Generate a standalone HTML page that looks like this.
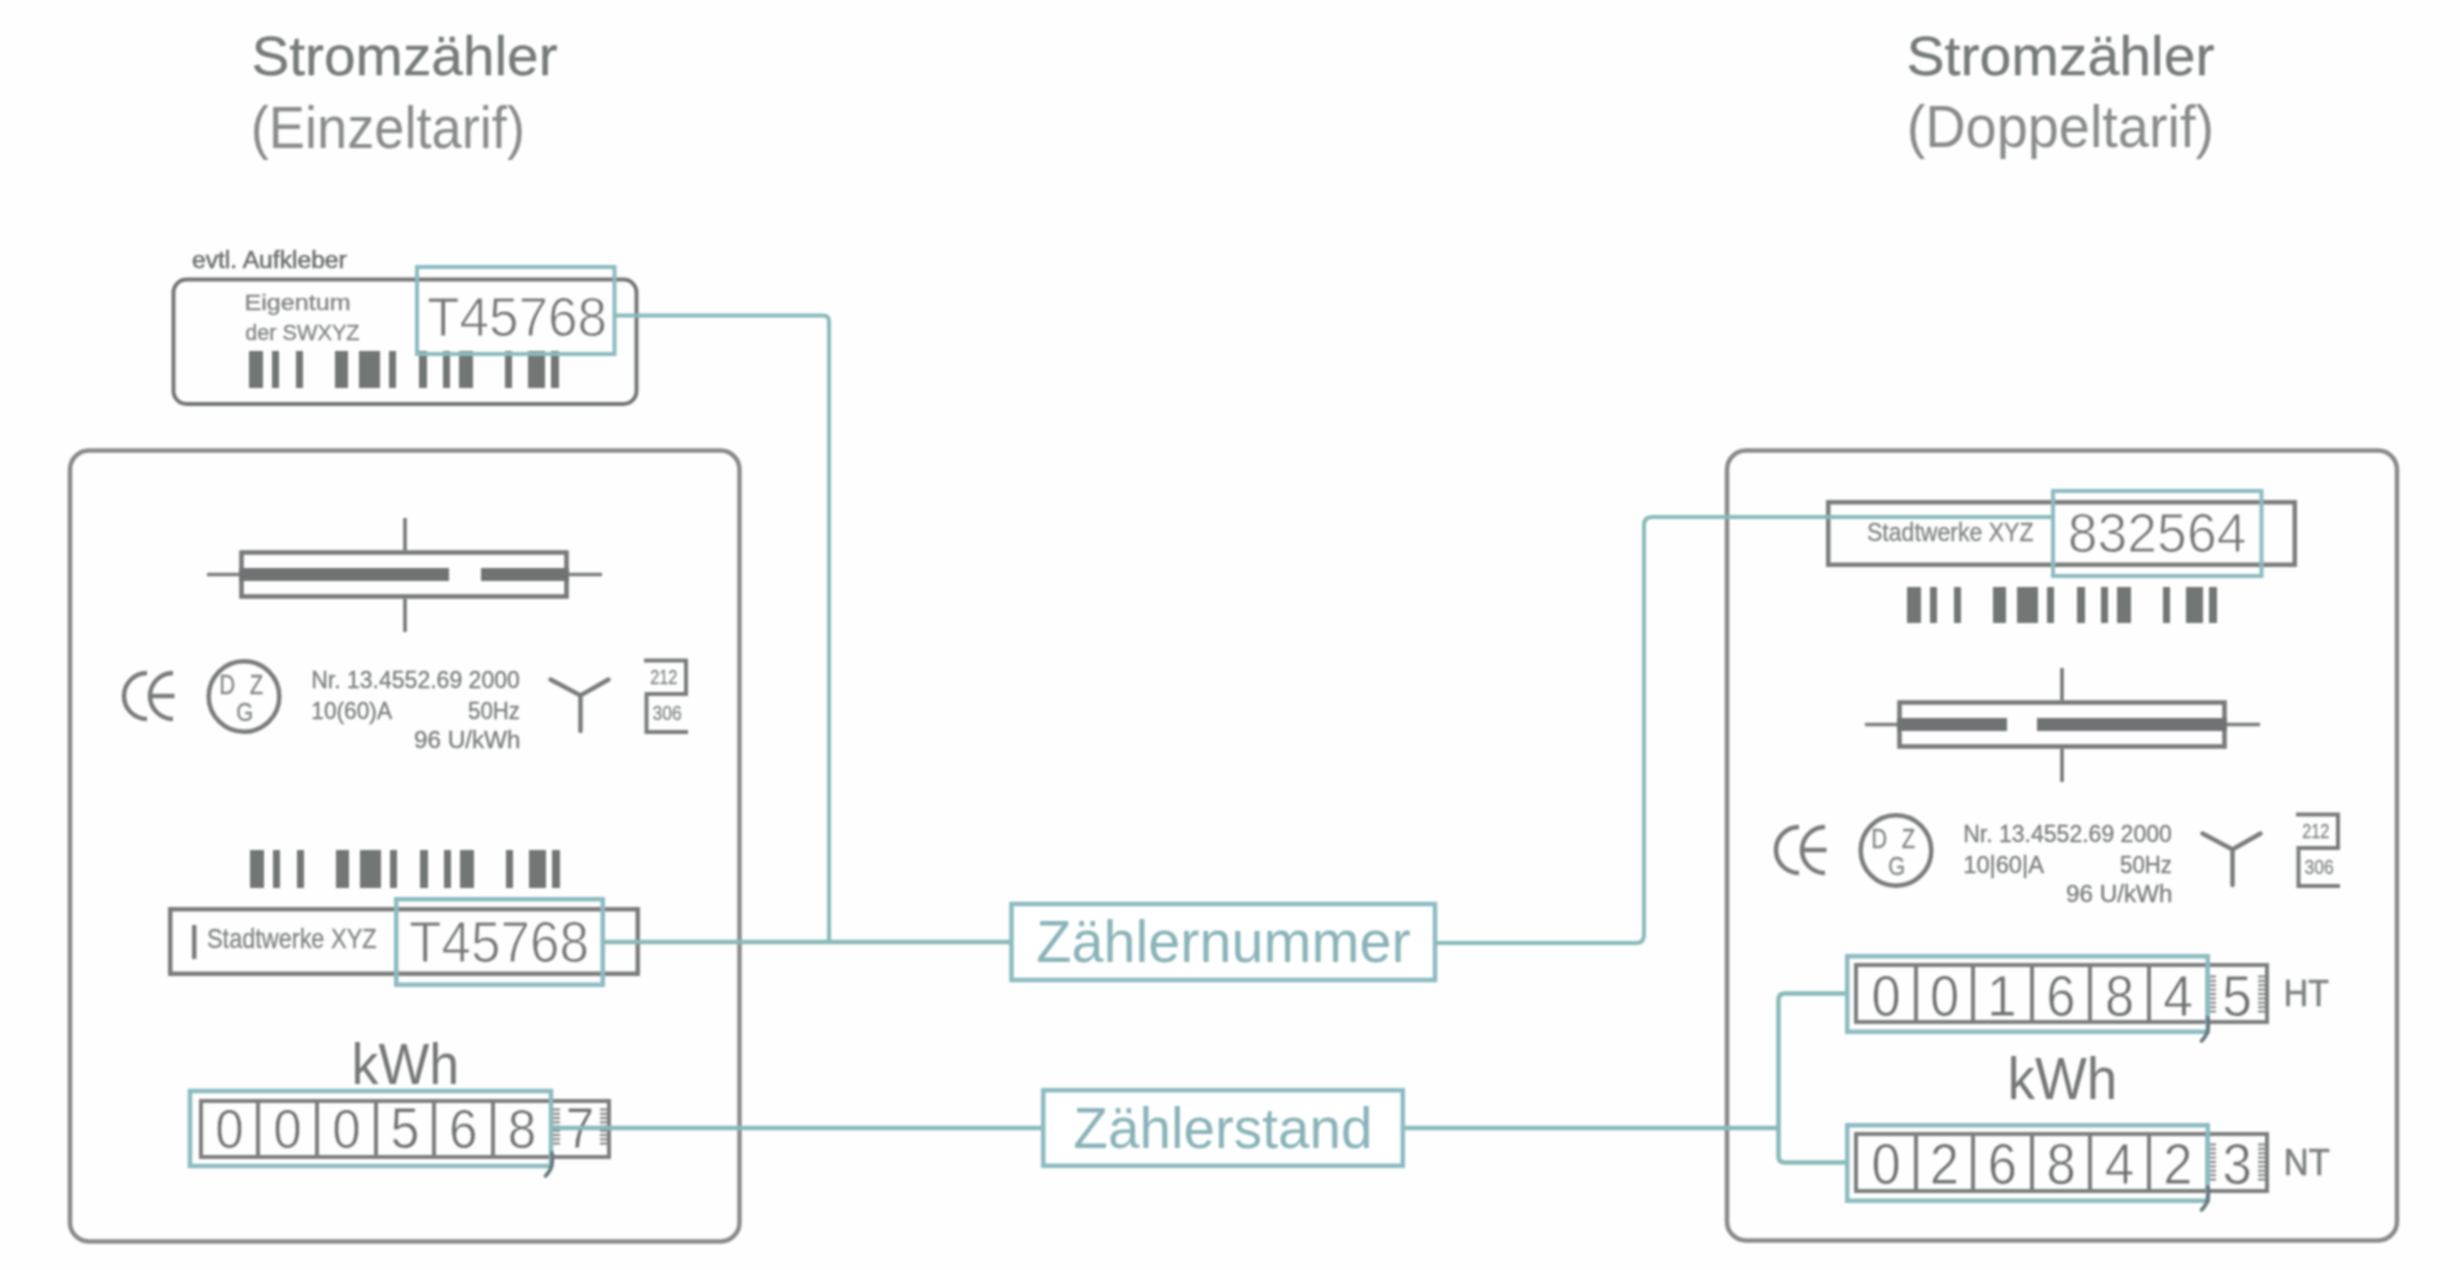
<!DOCTYPE html>
<html><head><meta charset="utf-8"><style>
html,body{margin:0;padding:0;background:#fefefe;}
svg{display:block;will-change:transform;filter:blur(0.9px);}
text{font-family:"Liberation Sans",sans-serif;}
</style></head><body>
<svg width="2460" height="1270" viewBox="0 0 2460 1270">
<rect width="2460" height="1270" fill="#fefefe"/>
<text transform="translate(251.44,74.50) scale(1.0260,1)" font-size="55.36" font-weight="normal" fill="#767a7a" stroke="#767a7a" stroke-width="0.35">Stromzähler</text>
<text transform="translate(250.74,147.50) scale(0.9300,1)" font-size="58.33" font-weight="normal" fill="#8a8c8c" >(Einzeltarif)</text>
<text transform="translate(1906.43,74.50) scale(1.0261,1)" font-size="55.71" font-weight="normal" fill="#767a7a" stroke="#767a7a" stroke-width="0.35">Stromzähler</text>
<text transform="translate(1906.65,147.00) scale(0.9523,1)" font-size="58.70" font-weight="normal" fill="#8a8c8c" >(Doppeltarif)</text>
<text transform="translate(192.01,268.00) scale(1.0508,1)" font-size="23.45" font-weight="normal" fill="#6f7272" stroke="#6f7272" stroke-width="0.6">evtl. Aufkleber</text>
<rect x="173.5" y="279.5" width="463" height="124.5" rx="13" fill="none" stroke="#747676" stroke-width="4"/>
<text transform="translate(244.49,310.00) scale(1.1556,1)" font-size="21.74" font-weight="normal" fill="#848787" stroke="#848787" stroke-width="0.4">Eigentum</text>
<text transform="translate(245.13,340.00) scale(0.9828,1)" font-size="22.07" font-weight="normal" fill="#848787" stroke="#848787" stroke-width="0.4">der SWXYZ</text>
<rect x="249" y="351" width="14" height="37" fill="#727674"/><rect x="272" y="351" width="7" height="37" fill="#727674"/><rect x="296" y="351" width="7" height="37" fill="#727674"/><rect x="335" y="351" width="13" height="37" fill="#727674"/><rect x="359" y="351" width="21" height="37" fill="#727674"/><rect x="389" y="351" width="7" height="37" fill="#727674"/><rect x="419" y="351" width="8" height="37" fill="#727674"/><rect x="443" y="351" width="7" height="37" fill="#727674"/><rect x="459" y="351" width="14" height="37" fill="#727674"/><rect x="505" y="351" width="7" height="37" fill="#727674"/><rect x="528" y="351" width="17" height="37" fill="#727674"/><rect x="551" y="351" width="8" height="37" fill="#727674"/>
<text transform="translate(426.94,336.00) scale(0.9540,1)" font-size="55.71" font-weight="normal" fill="#747775" stroke="#fefefe" stroke-width="1.1">T45768</text>
<rect x="417" y="267" width="197.5" height="87" fill="none" stroke="#8cbbc1" stroke-width="4"/>
<rect x="70" y="450.5" width="669.5" height="791" rx="19" fill="none" stroke="#8a8a8a" stroke-width="4.5"/>
<rect x="1727" y="450.5" width="670" height="790" rx="19" fill="none" stroke="#8a8a8a" stroke-width="4.5"/>
<rect x="241.5" y="552.5" width="325" height="44" fill="none" stroke="#777a7a" stroke-width="4.6"/><rect x="239" y="568" width="210" height="13" fill="#6f7373"/><rect x="481" y="568" width="88" height="13" fill="#6f7373"/><line x1="207" y1="574.5" x2="239" y2="574.5" stroke="#7a7d7d" stroke-width="3.5"/><line x1="569" y1="574.5" x2="602" y2="574.5" stroke="#7a7d7d" stroke-width="3.5"/><line x1="405" y1="518" x2="405" y2="550" stroke="#6f7272" stroke-width="3.5"/><line x1="405" y1="599" x2="405" y2="632" stroke="#6f7272" stroke-width="3.5"/>
<rect x="1899.5" y="702.5" width="325" height="44" fill="none" stroke="#777a7a" stroke-width="4.6"/><rect x="1897" y="718" width="110" height="13" fill="#6f7373"/><rect x="2037" y="718" width="190" height="13" fill="#6f7373"/><line x1="1865" y1="724.5" x2="1897" y2="724.5" stroke="#7a7d7d" stroke-width="3.5"/><line x1="2227" y1="724.5" x2="2260" y2="724.5" stroke="#7a7d7d" stroke-width="3.5"/><line x1="2062" y1="668" x2="2062" y2="700" stroke="#6f7272" stroke-width="3.5"/><line x1="2062" y1="749" x2="2062" y2="782" stroke="#6f7272" stroke-width="3.5"/>
<g transform="translate(0,0)"><path d="M147,673 A23,23 0 0 0 147,719" fill="none" stroke="#7a7c7c" stroke-width="4.5"/><path d="M173,673 A23,23 0 0 0 173,719 M151,696 H174.5" fill="none" stroke="#7a7c7c" stroke-width="4.5"/><circle cx="244" cy="696.5" r="35.3" fill="none" stroke="#7a7c7c" stroke-width="4.5"/><text transform="translate(219.18,694.00) scale(0.8000,1)" font-size="27.54" font-weight="normal" fill="#858888" stroke="#858888" stroke-width="0.4">D</text><text transform="translate(249.78,694.00) scale(0.8000,1)" font-size="27.54" font-weight="normal" fill="#858888" stroke="#858888" stroke-width="0.4">Z</text><text transform="translate(236.25,721.00) scale(0.8500,1)" font-size="25.71" font-weight="normal" fill="#858888" stroke="#858888" stroke-width="0.4">G</text><text transform="translate(311.16,688.00) scale(0.9770,1)" font-size="23.57" font-weight="normal" fill="#7d8080" stroke="#7d8080" stroke-width="0.4">Nr. 13.4552.69 2000</text><text transform="translate(311.30,719.00) scale(0.9681,1)" font-size="23.45" font-weight="normal" fill="#7d8080" stroke="#7d8080" stroke-width="0.4">10(60)A</text><text transform="translate(468.11,719.00) scale(0.9150,1)" font-size="24.29" font-weight="normal" fill="#7d8080" stroke="#7d8080" stroke-width="0.4">50Hz</text><text transform="translate(413.91,748.00) scale(1.0351,1)" font-size="23.45" font-weight="normal" fill="#7d8080" stroke="#7d8080" stroke-width="0.4">96 U/kWh</text><path d="M550.5,679.5 L580.5,695.5 L608.5,679.5 M580.5,695.5 V731" fill="none" stroke="#7a7c7c" stroke-width="4.5" stroke-linecap="round" stroke-linejoin="miter"/><path d="M644,660.5 H686 V694 H646.5 V732 H688" fill="none" stroke="#7a7c7c" stroke-width="4"/><text transform="translate(650.19,684.00) scale(0.8121,1)" font-size="20.00" font-weight="normal" fill="#868989" stroke="#868989" stroke-width="0.4">212</text><text transform="translate(652.38,720.00) scale(0.8501,1)" font-size="20.71" font-weight="normal" fill="#868989" stroke="#868989" stroke-width="0.4">306</text></g>
<g transform="translate(1652,154)"><path d="M147,673 A23,23 0 0 0 147,719" fill="none" stroke="#7a7c7c" stroke-width="4.5"/><path d="M173,673 A23,23 0 0 0 173,719 M151,696 H174.5" fill="none" stroke="#7a7c7c" stroke-width="4.5"/><circle cx="244" cy="696.5" r="35.3" fill="none" stroke="#7a7c7c" stroke-width="4.5"/><text transform="translate(219.18,694.00) scale(0.8000,1)" font-size="27.54" font-weight="normal" fill="#858888" stroke="#858888" stroke-width="0.4">D</text><text transform="translate(249.78,694.00) scale(0.8000,1)" font-size="27.54" font-weight="normal" fill="#858888" stroke="#858888" stroke-width="0.4">Z</text><text transform="translate(236.25,721.00) scale(0.8500,1)" font-size="25.71" font-weight="normal" fill="#858888" stroke="#858888" stroke-width="0.4">G</text><text transform="translate(311.16,688.00) scale(0.9770,1)" font-size="23.57" font-weight="normal" fill="#7d8080" stroke="#7d8080" stroke-width="0.4">Nr. 13.4552.69 2000</text><text transform="translate(311.22,719.00) scale(1.0102,1)" font-size="23.45" font-weight="normal" fill="#7d8080" stroke="#7d8080" stroke-width="0.4">10|60|A</text><text transform="translate(468.11,719.00) scale(0.9150,1)" font-size="24.29" font-weight="normal" fill="#7d8080" stroke="#7d8080" stroke-width="0.4">50Hz</text><text transform="translate(413.91,748.00) scale(1.0351,1)" font-size="23.45" font-weight="normal" fill="#7d8080" stroke="#7d8080" stroke-width="0.4">96 U/kWh</text><path d="M550.5,679.5 L580.5,695.5 L608.5,679.5 M580.5,695.5 V731" fill="none" stroke="#7a7c7c" stroke-width="4.5" stroke-linecap="round" stroke-linejoin="miter"/><path d="M644,660.5 H686 V694 H646.5 V732 H688" fill="none" stroke="#7a7c7c" stroke-width="4"/><text transform="translate(650.19,684.00) scale(0.8121,1)" font-size="20.00" font-weight="normal" fill="#868989" stroke="#868989" stroke-width="0.4">212</text><text transform="translate(652.38,720.00) scale(0.8501,1)" font-size="20.71" font-weight="normal" fill="#868989" stroke="#868989" stroke-width="0.4">306</text></g>
<rect x="250" y="850" width="14" height="38" fill="#727674"/><rect x="273" y="850" width="7" height="38" fill="#727674"/><rect x="297" y="850" width="7" height="38" fill="#727674"/><rect x="336" y="850" width="13" height="38" fill="#727674"/><rect x="360" y="850" width="21" height="38" fill="#727674"/><rect x="390" y="850" width="7" height="38" fill="#727674"/><rect x="420" y="850" width="8" height="38" fill="#727674"/><rect x="444" y="850" width="7" height="38" fill="#727674"/><rect x="460" y="850" width="14" height="38" fill="#727674"/><rect x="506" y="850" width="7" height="38" fill="#727674"/><rect x="529" y="850" width="17" height="38" fill="#727674"/><rect x="552" y="850" width="8" height="38" fill="#727674"/>
<rect x="170.25" y="909.25" width="467.5" height="64.5" fill="none" stroke="#7b7d7d" stroke-width="4.5"/>
<rect x="192" y="925" width="4.5" height="34" fill="#7a7c7c"/>
<text transform="translate(206.94,948.00) scale(0.8657,1)" font-size="27.14" font-weight="normal" fill="#848787" stroke="#848787" stroke-width="0.4">Stadtwerke XYZ</text>
<text transform="translate(408.94,962.00) scale(0.9302,1)" font-size="57.14" font-weight="normal" fill="#747775" stroke="#fefefe" stroke-width="1.1">T45768</text>
<rect x="396.25" y="899.25" width="206.5" height="85.5" fill="none" stroke="#8cbbc1" stroke-width="4.5"/>
<text transform="translate(351.50,1084.00) scale(0.9298,1)" font-size="57.93" font-weight="normal" fill="#767878" >kWh</text>
<rect x="201" y="1101" width="408" height="56" fill="none" stroke="#7c7e7e" stroke-width="4"/><line x1="258" y1="1099" x2="258" y2="1159" stroke="#7c7e7e" stroke-width="4"/><line x1="317" y1="1099" x2="317" y2="1159" stroke="#7c7e7e" stroke-width="4"/><line x1="376" y1="1099" x2="376" y2="1159" stroke="#7c7e7e" stroke-width="4"/><line x1="434" y1="1099" x2="434" y2="1159" stroke="#7c7e7e" stroke-width="4"/><line x1="493" y1="1099" x2="493" y2="1159" stroke="#7c7e7e" stroke-width="4"/><line x1="551" y1="1099" x2="551" y2="1159" stroke="#7c7e7e" stroke-width="3"/><text transform="translate(215.28,1148.00) scale(0.9200,1)" font-size="55.71" font-weight="normal" fill="#6f7171" stroke="#fefefe" stroke-width="0.8">0</text><text transform="translate(273.28,1148.00) scale(0.9200,1)" font-size="55.71" font-weight="normal" fill="#6f7171" stroke="#fefefe" stroke-width="0.8">0</text><text transform="translate(332.28,1148.00) scale(0.9200,1)" font-size="55.71" font-weight="normal" fill="#6f7171" stroke="#fefefe" stroke-width="0.8">0</text><text transform="translate(390.57,1148.00) scale(0.9200,1)" font-size="56.52" font-weight="normal" fill="#6f7171" stroke="#fefefe" stroke-width="0.8">5</text><text transform="translate(449.02,1148.00) scale(0.9200,1)" font-size="55.71" font-weight="normal" fill="#6f7171" stroke="#fefefe" stroke-width="0.8">6</text><text transform="translate(507.78,1148.00) scale(0.9200,1)" font-size="55.71" font-weight="normal" fill="#6f7171" stroke="#fefefe" stroke-width="0.8">8</text><text transform="translate(565.44,1148.00) scale(0.9200,1)" font-size="56.52" font-weight="normal" fill="#6f7171" stroke="#fefefe" stroke-width="0.8">7</text><rect x="553" y="1108.5" width="7" height="2" fill="#7c7e7e"/><rect x="600" y="1108.5" width="7" height="2" fill="#7c7e7e"/><rect x="553" y="1112.8" width="7" height="2" fill="#7c7e7e"/><rect x="600" y="1112.8" width="7" height="2" fill="#7c7e7e"/><rect x="553" y="1117.0" width="7" height="2" fill="#7c7e7e"/><rect x="600" y="1117.0" width="7" height="2" fill="#7c7e7e"/><rect x="553" y="1121.2" width="7" height="2" fill="#7c7e7e"/><rect x="600" y="1121.2" width="7" height="2" fill="#7c7e7e"/><rect x="553" y="1125.5" width="7" height="2" fill="#7c7e7e"/><rect x="600" y="1125.5" width="7" height="2" fill="#7c7e7e"/><rect x="553" y="1129.8" width="7" height="2" fill="#7c7e7e"/><rect x="600" y="1129.8" width="7" height="2" fill="#7c7e7e"/><rect x="553" y="1134.0" width="7" height="2" fill="#7c7e7e"/><rect x="600" y="1134.0" width="7" height="2" fill="#7c7e7e"/><rect x="553" y="1138.2" width="7" height="2" fill="#7c7e7e"/><rect x="600" y="1138.2" width="7" height="2" fill="#7c7e7e"/><rect x="553" y="1142.5" width="7" height="2" fill="#7c7e7e"/><rect x="600" y="1142.5" width="7" height="2" fill="#7c7e7e"/>
<rect x="190" y="1091" width="361" height="75" fill="none" stroke="#8cbbc1" stroke-width="4.5"/>
<rect x="1828.25" y="502.25" width="466.5" height="62.5" fill="none" stroke="#7b7d7d" stroke-width="4.5"/>
<text transform="translate(1866.96,541.00) scale(0.8974,1)" font-size="25.71" font-weight="normal" fill="#848787" stroke="#848787" stroke-width="0.4">Stadtwerke XYZ</text>
<text transform="translate(2067.86,552.00) scale(0.9606,1)" font-size="55.71" font-weight="normal" fill="#747775" stroke="#fefefe" stroke-width="1.1">832564</text>
<rect x="1907" y="587" width="14" height="36" fill="#727674"/><rect x="1930" y="587" width="7" height="36" fill="#727674"/><rect x="1954" y="587" width="7" height="36" fill="#727674"/><rect x="1993" y="587" width="13" height="36" fill="#727674"/><rect x="2017" y="587" width="21" height="36" fill="#727674"/><rect x="2047" y="587" width="7" height="36" fill="#727674"/><rect x="2077" y="587" width="8" height="36" fill="#727674"/><rect x="2101" y="587" width="7" height="36" fill="#727674"/><rect x="2117" y="587" width="14" height="36" fill="#727674"/><rect x="2163" y="587" width="7" height="36" fill="#727674"/><rect x="2186" y="587" width="17" height="36" fill="#727674"/><rect x="2209" y="587" width="8" height="36" fill="#727674"/>
<rect x="1856" y="965" width="411" height="57" fill="none" stroke="#7c7e7e" stroke-width="4"/><line x1="1916" y1="963" x2="1916" y2="1024" stroke="#7c7e7e" stroke-width="4"/><line x1="1973" y1="963" x2="1973" y2="1024" stroke="#7c7e7e" stroke-width="4"/><line x1="2032" y1="963" x2="2032" y2="1024" stroke="#7c7e7e" stroke-width="4"/><line x1="2090" y1="963" x2="2090" y2="1024" stroke="#7c7e7e" stroke-width="4"/><line x1="2149" y1="963" x2="2149" y2="1024" stroke="#7c7e7e" stroke-width="4"/><line x1="2207" y1="963" x2="2207" y2="1024" stroke="#7c7e7e" stroke-width="3"/><text transform="translate(1871.41,1016.00) scale(0.9200,1)" font-size="57.14" font-weight="normal" fill="#6f7171" stroke="#fefefe" stroke-width="0.8">0</text><text transform="translate(1929.91,1016.00) scale(0.9200,1)" font-size="57.14" font-weight="normal" fill="#6f7171" stroke="#fefefe" stroke-width="0.8">0</text><text transform="translate(1986.90,1016.00) scale(0.9200,1)" font-size="57.97" font-weight="normal" fill="#6f7171" stroke="#fefefe" stroke-width="0.8">1</text><text transform="translate(2046.15,1016.00) scale(0.9200,1)" font-size="57.14" font-weight="normal" fill="#6f7171" stroke="#fefefe" stroke-width="0.8">6</text><text transform="translate(2104.91,1016.00) scale(0.9200,1)" font-size="57.14" font-weight="normal" fill="#6f7171" stroke="#fefefe" stroke-width="0.8">8</text><text transform="translate(2163.33,1016.00) scale(0.9200,1)" font-size="57.97" font-weight="normal" fill="#6f7171" stroke="#fefefe" stroke-width="0.8">4</text><text transform="translate(2222.20,1016.00) scale(0.9200,1)" font-size="57.97" font-weight="normal" fill="#6f7171" stroke="#fefefe" stroke-width="0.8">5</text><rect x="2209" y="975.5" width="7" height="2" fill="#7c7e7e"/><rect x="2258" y="975.5" width="7" height="2" fill="#7c7e7e"/><rect x="2209" y="979.9" width="7" height="2" fill="#7c7e7e"/><rect x="2258" y="979.9" width="7" height="2" fill="#7c7e7e"/><rect x="2209" y="984.2" width="7" height="2" fill="#7c7e7e"/><rect x="2258" y="984.2" width="7" height="2" fill="#7c7e7e"/><rect x="2209" y="988.6" width="7" height="2" fill="#7c7e7e"/><rect x="2258" y="988.6" width="7" height="2" fill="#7c7e7e"/><rect x="2209" y="993.0" width="7" height="2" fill="#7c7e7e"/><rect x="2258" y="993.0" width="7" height="2" fill="#7c7e7e"/><rect x="2209" y="997.4" width="7" height="2" fill="#7c7e7e"/><rect x="2258" y="997.4" width="7" height="2" fill="#7c7e7e"/><rect x="2209" y="1001.8" width="7" height="2" fill="#7c7e7e"/><rect x="2258" y="1001.8" width="7" height="2" fill="#7c7e7e"/><rect x="2209" y="1006.1" width="7" height="2" fill="#7c7e7e"/><rect x="2258" y="1006.1" width="7" height="2" fill="#7c7e7e"/><rect x="2209" y="1010.5" width="7" height="2" fill="#7c7e7e"/><rect x="2258" y="1010.5" width="7" height="2" fill="#7c7e7e"/>
<rect x="1856" y="1134" width="411" height="57" fill="none" stroke="#7c7e7e" stroke-width="4"/><line x1="1916" y1="1132" x2="1916" y2="1193" stroke="#7c7e7e" stroke-width="4"/><line x1="1973" y1="1132" x2="1973" y2="1193" stroke="#7c7e7e" stroke-width="4"/><line x1="2032" y1="1132" x2="2032" y2="1193" stroke="#7c7e7e" stroke-width="4"/><line x1="2090" y1="1132" x2="2090" y2="1193" stroke="#7c7e7e" stroke-width="4"/><line x1="2149" y1="1132" x2="2149" y2="1193" stroke="#7c7e7e" stroke-width="4"/><line x1="2207" y1="1132" x2="2207" y2="1193" stroke="#7c7e7e" stroke-width="3"/><text transform="translate(1871.41,1184.00) scale(0.9200,1)" font-size="57.14" font-weight="normal" fill="#6f7171" stroke="#fefefe" stroke-width="0.8">0</text><text transform="translate(1929.78,1184.00) scale(0.9200,1)" font-size="57.14" font-weight="normal" fill="#6f7171" stroke="#fefefe" stroke-width="0.8">2</text><text transform="translate(1987.65,1184.00) scale(0.9200,1)" font-size="57.14" font-weight="normal" fill="#6f7171" stroke="#fefefe" stroke-width="0.8">6</text><text transform="translate(2046.41,1184.00) scale(0.9200,1)" font-size="57.14" font-weight="normal" fill="#6f7171" stroke="#fefefe" stroke-width="0.8">8</text><text transform="translate(2104.83,1184.00) scale(0.9200,1)" font-size="57.97" font-weight="normal" fill="#6f7171" stroke="#fefefe" stroke-width="0.8">4</text><text transform="translate(2163.28,1184.00) scale(0.9200,1)" font-size="57.14" font-weight="normal" fill="#6f7171" stroke="#fefefe" stroke-width="0.8">2</text><text transform="translate(2222.54,1184.00) scale(0.9200,1)" font-size="57.14" font-weight="normal" fill="#6f7171" stroke="#fefefe" stroke-width="0.8">3</text><rect x="2209" y="1143.5" width="7" height="2" fill="#7c7e7e"/><rect x="2258" y="1143.5" width="7" height="2" fill="#7c7e7e"/><rect x="2209" y="1147.9" width="7" height="2" fill="#7c7e7e"/><rect x="2258" y="1147.9" width="7" height="2" fill="#7c7e7e"/><rect x="2209" y="1152.2" width="7" height="2" fill="#7c7e7e"/><rect x="2258" y="1152.2" width="7" height="2" fill="#7c7e7e"/><rect x="2209" y="1156.6" width="7" height="2" fill="#7c7e7e"/><rect x="2258" y="1156.6" width="7" height="2" fill="#7c7e7e"/><rect x="2209" y="1161.0" width="7" height="2" fill="#7c7e7e"/><rect x="2258" y="1161.0" width="7" height="2" fill="#7c7e7e"/><rect x="2209" y="1165.4" width="7" height="2" fill="#7c7e7e"/><rect x="2258" y="1165.4" width="7" height="2" fill="#7c7e7e"/><rect x="2209" y="1169.8" width="7" height="2" fill="#7c7e7e"/><rect x="2258" y="1169.8" width="7" height="2" fill="#7c7e7e"/><rect x="2209" y="1174.1" width="7" height="2" fill="#7c7e7e"/><rect x="2258" y="1174.1" width="7" height="2" fill="#7c7e7e"/><rect x="2209" y="1178.5" width="7" height="2" fill="#7c7e7e"/><rect x="2258" y="1178.5" width="7" height="2" fill="#7c7e7e"/>
<text transform="translate(2283.80,1006.00) scale(0.9312,1)" font-size="36.23" font-weight="normal" fill="#7e8282" stroke="#7e8282" stroke-width="0.7">HT</text>
<text transform="translate(2283.74,1175.00) scale(0.9537,1)" font-size="36.23" font-weight="normal" fill="#7e8282" stroke="#7e8282" stroke-width="0.7">NT</text>
<text transform="translate(2007.43,1099.00) scale(0.9262,1)" font-size="59.31" font-weight="normal" fill="#767878" >kWh</text>
<path d="M615,315.5 H823 Q829,315.5 829,321.5 V942" fill="none" stroke="#88bab8" stroke-width="4"/>
<path d="M603,942 H1010" fill="none" stroke="#88bab8" stroke-width="4.5"/>
<rect x="1011.5" y="904" width="423.5" height="76" fill="#fff" stroke="#8cbbc1" stroke-width="4.5"/>
<text transform="translate(1036.27,962.00) scale(0.9691,1)" font-size="59.42" font-weight="normal" fill="#8ab3b9" >Zählernummer</text>
<path d="M1436,943 H1636 Q1644,943 1644,935 V525 Q1644,517 1652,517 H2051" fill="none" stroke="#88bab8" stroke-width="4"/>
<rect x="2053" y="491" width="208.5" height="85" fill="none" stroke="#8cbbc1" stroke-width="4"/>
<path d="M551,1128 H1042" fill="none" stroke="#88bab8" stroke-width="4.5"/>
<rect x="1043.25" y="1090.25" width="359.5" height="75.5" fill="#fff" stroke="#8cbbc1" stroke-width="4.5"/>
<text transform="translate(1073.30,1148.00) scale(1.0022,1)" font-size="56.52" font-weight="normal" fill="#8ab3b9" >Zählerstand</text>
<path d="M1404,1128 H1778.5" fill="none" stroke="#88bab8" stroke-width="4.5"/>
<path d="M1847,993.5 H1785 Q1778.5,993.5 1778.5,1000 V1156 Q1778.5,1162.5 1785,1162.5 H1847" fill="none" stroke="#88bab8" stroke-width="4.5"/>
<rect x="1847.25" y="956.25" width="360.5" height="75.5" fill="none" stroke="#8cbbc1" stroke-width="4.5"/>
<rect x="1847.25" y="1125.25" width="360.5" height="75.5" fill="none" stroke="#8cbbc1" stroke-width="4.5"/>
<path d="M552,1153 C553,1163 552.5,1169 545.5,1176" fill="none" stroke="#66797c" stroke-width="3.8" stroke-linecap="round"/>
<path d="M2208,1018 C2209,1028 2208.5,1034 2201.5,1041" fill="none" stroke="#66797c" stroke-width="3.8" stroke-linecap="round"/>
<path d="M2208,1187 C2209,1197 2208.5,1203 2201.5,1210" fill="none" stroke="#66797c" stroke-width="3.8" stroke-linecap="round"/>
</svg>
</body></html>
